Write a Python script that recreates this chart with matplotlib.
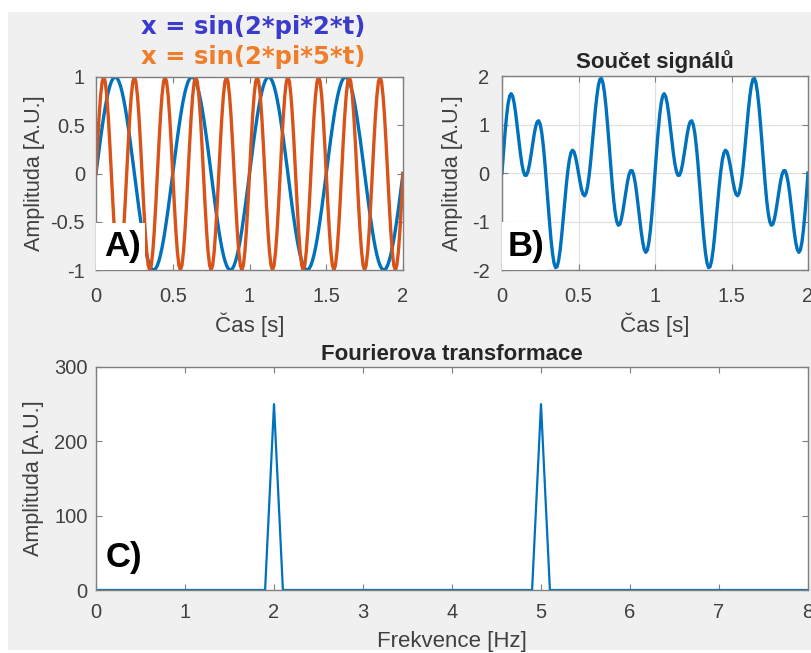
import numpy as np
import matplotlib.pyplot as plt
from matplotlib.patches import Rectangle

# signal parameters
freqs = [2, 5]            # Hz, x = sin(2*pi*f*t)
fs = 100                  # samples per second
t_end = 2.0

# spectrum (panel C)
spec_f = [0.0, 1.9, 2.0, 2.1, 4.9, 5.0, 5.1, 8.0]
spec_a = [0, 0, 250, 0, 0, 250, 0, 0]

blue = '#0072BD'
orange = '#D95319'
axcol = '#7f7f7f'
txtcol = '#404040'

plt.rcParams['font.family'] = ['Liberation Sans', 'DejaVu Sans']
plt.rcParams['axes.unicode_minus'] = False

t = np.arange(0, t_end + 1e-9, 1.0 / fs)
x1 = np.sin(2 * np.pi * freqs[0] * t)
x2 = np.sin(2 * np.pi * freqs[1] * t)
xs = x1 + x2

fig = plt.figure(figsize=(8.11, 6.53), dpi=100, facecolor='white')
fig.patches.append(Rectangle((8 / 811, 3 / 653), 1, 1 - 15 / 653, transform=fig.transFigure,
                             facecolor='#f0f0f0', edgecolor='none', zorder=-10))


def style(ax, xpad=12, ypad=8):
    for s in ax.spines.values():
        s.set_color(axcol)
        s.set_linewidth(1.0)
    ax.tick_params(direction='in', length=4, color=axcol, labelcolor=txtcol,
                   labelsize=14.5, top=True, right=True)
    ax.tick_params(axis='x', pad=xpad)
    ax.tick_params(axis='y', pad=ypad)
    ax.set_facecolor('white')


def panel_label(ax, txt, w, h):
    ax.add_patch(Rectangle((0, 0), w, h, transform=ax.transAxes, facecolor='white',
                           edgecolor='none', zorder=5))
    ax.text(w / 2 + 0.005, h / 2, txt, transform=ax.transAxes, ha='center', va='center',
            fontsize=25, fontweight='bold', color='black', zorder=6)


# A
axA = fig.add_axes([96 / 811, 1 - 270 / 653, 307 / 811, 193 / 653])
axA.plot(t, x1, color=blue, lw=2.4)
axA.plot(t, x2, color=orange, lw=2.4)
axA.set_xlim(0, 2)
axA.set_ylim(-1, 1)
axA.set_xticks([0, 0.5, 1, 1.5, 2])
axA.set_xticklabels(['0', '0.5', '1', '1.5', '2'])
axA.set_yticks([-1, -0.5, 0, 0.5, 1])
axA.set_yticklabels(['-1', '-0.5', '0', '0.5', '1'])
style(axA)
axA.set_ylabel('Amplituda [A.U.]', fontsize=15.5, color=txtcol, labelpad=4)
axA.set_xlabel('Čas [s]', fontsize=16, color=txtcol, labelpad=5)
panel_label(axA, 'A)', 0.16, 0.245)
fig.text(253 / 811, 1 - 27 / 653, 'x = sin(2*pi*2*t)', ha='center', va='center',
         fontsize=17.5, fontweight='bold', color='#3b3bcc', family='DejaVu Sans')
fig.text(253 / 811, 1 - 57 / 653, 'x = sin(2*pi*5*t)', ha='center', va='center',
         fontsize=17.5, fontweight='bold', color='#f07d2a', family='DejaVu Sans')

# B
axB = fig.add_axes([502 / 811, 1 - 270 / 653, 306 / 811, 194 / 653])
axB.plot(t, xs, color=blue, lw=2.4)
axB.set_xlim(0, 2)
axB.set_ylim(-2, 2)
axB.set_xticks([0, 0.5, 1, 1.5, 2])
axB.set_xticklabels(['0', '0.5', '1', '1.5', '2'])
axB.set_yticks([-2, -1, 0, 1, 2])
axB.grid(True, color='#e0e0e0', lw=0.9)
style(axB, ypad=9)
axB.set_ylabel('Amplituda [A.U.]', fontsize=15.5, color=txtcol, labelpad=6)
axB.set_xlabel('Čas [s]', fontsize=16, color=txtcol, labelpad=5)
axB.set_title('Součet signálů', fontsize=16, fontweight='bold', color='#262626', pad=6)
panel_label(axB, 'B)', 0.15, 0.247)

# C
axC = fig.add_axes([96 / 811, 1 - 590 / 653, 712 / 811, 223 / 653])
axC.plot(spec_f, spec_a, color=blue, lw=1.6)
axC.set_xlim(0, 8)
axC.set_ylim(0, 300)
axC.set_xticks(range(9))
axC.set_yticks([0, 100, 200, 300])
style(axC, xpad=9, ypad=6)
axC.set_ylabel('Amplituda [A.U.]', fontsize=15.5, color=txtcol, labelpad=7)
axC.set_xlabel('Frekvence [Hz]', fontsize=16, color=txtcol, labelpad=7)
axC.set_title('Fourierova transformace', fontsize=16, fontweight='bold', color='#262626', pad=5)
axC.text(0.039, 0.145, 'C)', transform=axC.transAxes, ha='center', va='center',
         fontsize=25, fontweight='bold', color='black')

fig.savefig('out.png', dpi=100, facecolor=fig.get_facecolor())
